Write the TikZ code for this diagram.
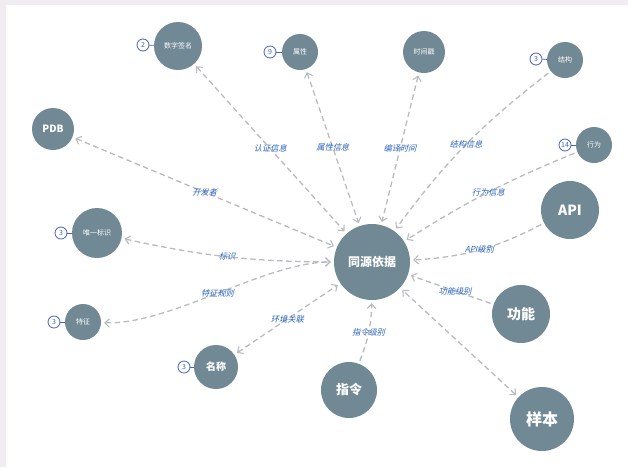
\documentclass[tikz,border=0pt]{standalone}
\usepackage{fontspec}
\setmainfont{Noto Sans CJK SC}
\newfontfamily\lblfont[FakeSlant=0.25]{Noto Sans CJK SC}
\usetikzlibrary{arrows.meta}

\definecolor{nodegray}{HTML}{718995}
\definecolor{edgegray}{HTML}{B8BCC0}
\definecolor{lblblue}{HTML}{2862C2}
\definecolor{badgeblue}{HTML}{4262C0}
\definecolor{stripgray}{HTML}{EFEDF1}

\tikzset{
  hub/.style={circle, fill=nodegray, text=white, inner sep=0pt, minimum size=#1},
  fs/.style={font=\fontsize{#1}{#1}\selectfont},
  fsb/.style={font=\fontsize{#1}{#1}\selectfont\bfseries},
  link/.style={draw=edgegray, line width=1.3pt, dash pattern=on 5.5pt off 3.5pt,
    shorten <=3pt, shorten >=3pt,
    >={Straight Barb[length=4.5pt,width=8.5pt,line width=1.1pt]}},
  lbl/.style={text=lblblue, font=\fontsize{8.2}{8.2}\selectfont\lblfont, inner sep=1pt},
  badge/.style={circle, draw=badgeblue, fill=white, line width=0.8pt, text=badgeblue,
    inner sep=0pt, minimum size=12pt, font=\fontsize{7}{7}\selectfont},
  badgeline/.style={draw=badgeblue, line width=0.8pt},
}

\begin{document}
\begin{tikzpicture}[x=1pt, y=-1pt]
  % page background with grey edge strips
  \fill[white] (0,0) rectangle (628,467);
  \fill[stripgray] (0,0) rectangle (628,5);
  \fill[stripgray] (0,0) rectangle (6,467);
  \useasboundingbox (0,0) rectangle (628,467);

  % nodes
  \node[hub=76pt, fsb=12] (c) at (372,262) {同源依据};
  \node[hub=48pt, fs=7] (sig) at (178,46) {数字签名};
  \node[hub=36pt, fs=7] (attr) at (300,52) {属性};
  \node[hub=42pt, fs=7] (time) at (424,52) {时间戳};
  \node[hub=36pt, fs=7] (struct) at (565,60) {结构};
  \node[hub=42pt, fsb=10] (pdb) at (53,129) {PDB};
  \node[hub=36pt, fs=7] (beh) at (594,145) {行为};
  \node[hub=58pt, fsb=14] (api) at (570,210) {API};
  \node[hub=50pt, fs=7] (uid) at (97,233) {唯一标识};
  \node[hub=36pt, fs=7] (feat) at (83,322) {特征};
  \node[hub=44pt, fsb=10] (name) at (216,367) {名称};
  \node[hub=56pt, fsb=13] (cmd) at (349,390) {指令};
  \node[hub=58pt, fsb=14] (func) at (521,314) {功能};
  \node[hub=64pt, fsb=16] (sample) at (542,419) {样本};

  % count badges
  \node[badge] (bsig) at (143,45) {2};
  \node[badge] (battr) at (270,52) {9};
  \node[badge] (bstruct) at (536,59) {3};
  \node[badge] (bbeh) at (565,145) {14};
  \node[badge] (buid) at (61,233) {3};
  \node[badge] (bfeat) at (54,322) {3};
  \node[badge] (bname) at (184,367) {3};
  \foreach \b/\n in {bsig/sig, battr/attr, bstruct/struct, bbeh/beh, buid/uid, bfeat/feat, bname/name}
    \draw[badgeline] (\b) -- (\n);

  % relations
  \draw[link, <->] (sig) -- node[lbl] {认证信息} (c);
  \draw[link, <->] (attr) -- node[lbl] {属性信息} (c);
  \draw[link, <->] (time) -- node[lbl] {编译时间} (c);
  \draw[link, ->] (struct) to[bend right=8] node[lbl] {结构信息} (c);
  \draw[link, ->] (beh) to[bend right=5] node[lbl] {行为信息} (c);
  \draw[link, ->] (api) to[bend left=12] node[lbl] {API级别} (c);
  \draw[link, ->] (func) -- node[lbl, pos=0.45] {功能级别} (c);
  \draw[link, <->] (sample) -- (c);
  \draw[link, ->] (cmd) to[bend right=10] node[lbl] {指令级别} (c);
  \draw[link, <->] (name) -- node[lbl] {环境关联} (c);
  \draw[link, <->] (feat) .. controls (170,325) and (265,262) .. node[lbl] {特征规则} (c);
  \draw[link, <->] (uid) to[bend right=6] node[lbl] {标识} (c);
  \draw[link, <->] (pdb) -- node[lbl] {开发者} (c);
\end{tikzpicture}
\end{document}
